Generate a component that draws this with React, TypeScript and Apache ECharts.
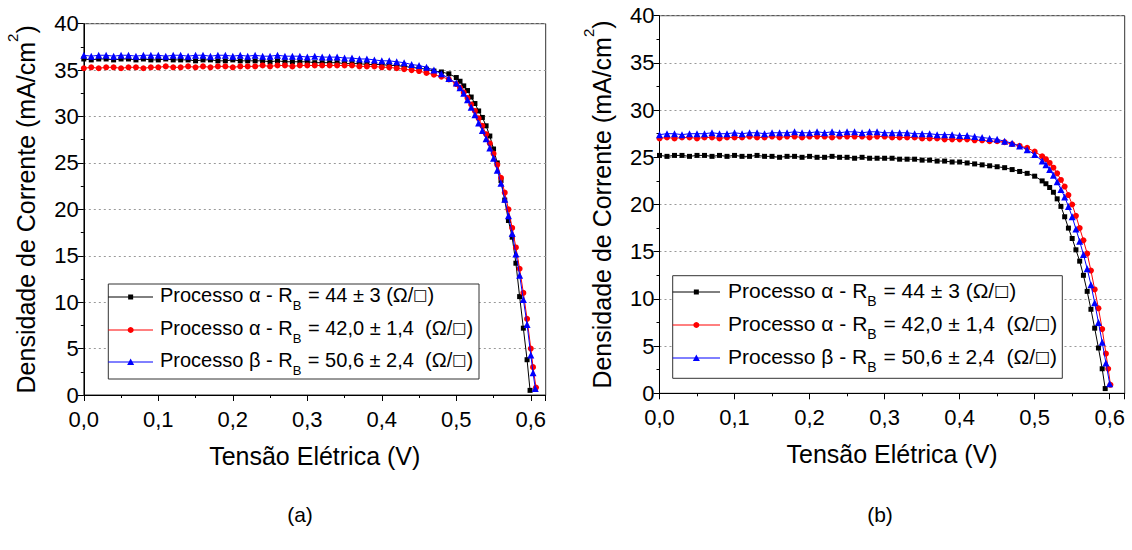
import React, { useEffect, useRef } from 'react';
import * as echarts from 'echarts';

// (a) Voltage (V), current density (mA/cm2)
const A_BLACK: number[][] = [
  [0, 36.2], [0.01, 36.1], [0.02, 36.2], [0.03, 36.2], [0.04, 36.1], [0.05, 36.2], [0.06, 36.2], [0.07, 36.1], [0.08, 36.2], [0.09, 36.1],
  [0.1, 36.1], [0.11, 36.2], [0.12, 36.1], [0.13, 36.1], [0.14, 36.1], [0.15, 36.0], [0.16, 36.1], [0.17, 36.1], [0.18, 36.0], [0.19, 36.0],
  [0.2, 36.1], [0.21, 36.0], [0.22, 36.0], [0.23, 36.0], [0.24, 36.0], [0.25, 35.9], [0.26, 36.0], [0.27, 35.9], [0.28, 35.9], [0.29, 35.9],
  [0.3, 35.9], [0.31, 35.8], [0.32, 35.8], [0.33, 35.8], [0.34, 35.8], [0.35, 35.7], [0.36, 35.7], [0.37, 35.7], [0.38, 35.6], [0.39, 35.6],
  [0.4, 35.6], [0.41, 35.5], [0.42, 35.5], [0.43, 35.4], [0.44, 35.3], [0.45, 35.2], [0.46, 35.1], [0.47, 34.9], [0.48, 34.8], [0.49, 34.6],
  [0.5, 34.2], [0.505, 33.8], [0.51, 33.3], [0.515, 32.8], [0.52, 32.1], [0.525, 31.4], [0.53, 30.6], [0.535, 29.9], [0.54, 29.0], [0.545, 27.9],
  [0.55, 26.5], [0.555, 25.0], [0.56, 23.1], [0.565, 21.0], [0.57, 18.8], [0.575, 17.0], [0.58, 14.2], [0.585, 10.6], [0.59, 7.2], [0.595, 3.8], [0.599, 0.5],
];
const A_RED: number[][] = [
  [0, 35.2], [0.01, 35.3], [0.02, 35.2], [0.03, 35.3], [0.04, 35.3], [0.05, 35.2], [0.06, 35.3], [0.07, 35.3], [0.08, 35.2], [0.09, 35.3],
  [0.1, 35.3], [0.11, 35.4], [0.12, 35.3], [0.13, 35.3], [0.14, 35.4], [0.15, 35.3], [0.16, 35.4], [0.17, 35.3], [0.18, 35.4], [0.19, 35.4],
  [0.2, 35.3], [0.21, 35.4], [0.22, 35.4], [0.23, 35.4], [0.24, 35.5], [0.25, 35.4], [0.26, 35.5], [0.27, 35.5], [0.28, 35.4], [0.29, 35.5],
  [0.3, 35.5], [0.31, 35.5], [0.32, 35.5], [0.33, 35.5], [0.34, 35.5], [0.35, 35.5], [0.36, 35.5], [0.37, 35.4], [0.38, 35.4], [0.39, 35.4],
  [0.4, 35.3], [0.41, 35.3], [0.42, 35.2], [0.43, 35.1], [0.44, 35.0], [0.45, 34.9], [0.46, 34.7], [0.47, 34.5], [0.48, 34.3], [0.49, 34.0],
  [0.5, 33.5], [0.505, 33.1], [0.51, 32.6], [0.515, 32.0], [0.52, 31.3], [0.525, 30.6], [0.53, 29.8], [0.535, 29.0], [0.54, 28.1], [0.545, 27.1],
  [0.55, 26.0], [0.555, 24.8], [0.56, 23.4], [0.565, 21.8], [0.57, 20.0], [0.575, 18.0], [0.58, 15.9], [0.585, 13.6], [0.59, 11.0], [0.595, 8.2],
  [0.6, 5.0], [0.603, 3.0], [0.607, 0.8],
];
const A_BLUE: number[][] = [
  [0, 36.6], [0.01, 36.5], [0.02, 36.6], [0.03, 36.6], [0.04, 36.5], [0.05, 36.6], [0.06, 36.6], [0.07, 36.5], [0.08, 36.6], [0.09, 36.6],
  [0.1, 36.6], [0.11, 36.5], [0.12, 36.6], [0.13, 36.6], [0.14, 36.5], [0.15, 36.6], [0.16, 36.6], [0.17, 36.5], [0.18, 36.6], [0.19, 36.6],
  [0.2, 36.5], [0.21, 36.6], [0.22, 36.5], [0.23, 36.6], [0.24, 36.5], [0.25, 36.5], [0.26, 36.6], [0.27, 36.5], [0.28, 36.5], [0.29, 36.5],
  [0.3, 36.4], [0.31, 36.5], [0.32, 36.4], [0.33, 36.4], [0.34, 36.4], [0.35, 36.3], [0.36, 36.3], [0.37, 36.2], [0.38, 36.2], [0.39, 36.1],
  [0.4, 36.0], [0.41, 36.0], [0.42, 35.9], [0.43, 35.8], [0.44, 35.6], [0.45, 35.5], [0.46, 35.3], [0.47, 35.0], [0.48, 34.6], [0.49, 34.1],
  [0.5, 33.6], [0.505, 33.1], [0.51, 32.5], [0.515, 31.8], [0.52, 31.0], [0.525, 30.2], [0.53, 29.3], [0.535, 28.5], [0.54, 27.6], [0.545, 26.6],
  [0.55, 25.5], [0.555, 24.2], [0.56, 22.8], [0.565, 21.1], [0.57, 19.3], [0.575, 17.4], [0.58, 15.2], [0.585, 12.9], [0.59, 10.3], [0.595, 7.6],
  [0.6, 4.3], [0.603, 2.4], [0.606, 0.7],
];

// (b)
const B_BLACK: number[][] = [
  [0, 25.2], [0.01, 25.1], [0.02, 25.2], [0.03, 25.2], [0.04, 25.1], [0.05, 25.2], [0.06, 25.2], [0.07, 25.1], [0.08, 25.2], [0.09, 25.1],
  [0.1, 25.2], [0.11, 25.1], [0.12, 25.1], [0.13, 25.2], [0.14, 25.1], [0.15, 25.1], [0.16, 25.0], [0.17, 25.1], [0.18, 25.1], [0.19, 25.0],
  [0.2, 25.1], [0.21, 25.0], [0.22, 25.0], [0.23, 25.1], [0.24, 25.0], [0.25, 25.0], [0.26, 24.9], [0.27, 25.0], [0.28, 24.9], [0.29, 24.9],
  [0.3, 24.9], [0.31, 24.9], [0.32, 24.8], [0.33, 24.8], [0.34, 24.8], [0.35, 24.7], [0.36, 24.7], [0.37, 24.6], [0.38, 24.6], [0.39, 24.5],
  [0.4, 24.5], [0.41, 24.4], [0.42, 24.3], [0.43, 24.2], [0.44, 24.1], [0.45, 24.0], [0.46, 23.9], [0.47, 23.7], [0.48, 23.5], [0.49, 23.3],
  [0.5, 23.0], [0.51, 22.5], [0.515, 22.2], [0.52, 21.8], [0.525, 21.3], [0.53, 20.6], [0.535, 19.8], [0.54, 18.7], [0.545, 17.5], [0.55, 16.4],
  [0.555, 15.2], [0.56, 14.0], [0.565, 12.5], [0.57, 10.8], [0.575, 8.9], [0.58, 6.9], [0.585, 4.8], [0.59, 2.6], [0.594, 0.5],
];
const B_RED: number[][] = [
  [0, 27.0], [0.01, 27.1], [0.02, 27.0], [0.03, 27.1], [0.04, 27.1], [0.05, 27.0], [0.06, 27.1], [0.07, 27.1], [0.08, 27.0], [0.09, 27.1],
  [0.1, 27.1], [0.11, 27.1], [0.12, 27.2], [0.13, 27.1], [0.14, 27.1], [0.15, 27.2], [0.16, 27.1], [0.17, 27.2], [0.18, 27.2], [0.19, 27.1],
  [0.2, 27.2], [0.21, 27.2], [0.22, 27.2], [0.23, 27.1], [0.24, 27.2], [0.25, 27.2], [0.26, 27.2], [0.27, 27.2], [0.28, 27.1], [0.29, 27.2],
  [0.3, 27.2], [0.31, 27.1], [0.32, 27.1], [0.33, 27.1], [0.34, 27.1], [0.35, 27.0], [0.36, 27.0], [0.37, 27.0], [0.38, 26.9], [0.39, 26.9],
  [0.4, 26.9], [0.41, 26.9], [0.42, 26.8], [0.43, 26.8], [0.44, 26.7], [0.45, 26.7], [0.46, 26.6], [0.47, 26.4], [0.48, 26.2], [0.49, 26.0],
  [0.5, 25.6], [0.51, 25.1], [0.515, 24.8], [0.52, 24.4], [0.525, 23.9], [0.53, 23.3], [0.535, 22.6], [0.54, 21.9], [0.545, 21.0], [0.55, 20.0],
  [0.555, 18.8], [0.56, 17.5], [0.565, 16.2], [0.57, 14.8], [0.575, 13.0], [0.58, 11.0], [0.585, 9.0], [0.59, 6.8], [0.595, 4.2], [0.598, 2.6], [0.601, 0.9],
];
const B_BLUE: number[][] = [
  [0, 27.4], [0.01, 27.5], [0.02, 27.5], [0.03, 27.4], [0.04, 27.5], [0.05, 27.5], [0.06, 27.5], [0.07, 27.6], [0.08, 27.5], [0.09, 27.5],
  [0.1, 27.6], [0.11, 27.5], [0.12, 27.6], [0.13, 27.6], [0.14, 27.5], [0.15, 27.6], [0.16, 27.6], [0.17, 27.6], [0.18, 27.7], [0.19, 27.6],
  [0.2, 27.6], [0.21, 27.7], [0.22, 27.6], [0.23, 27.7], [0.24, 27.6], [0.25, 27.7], [0.26, 27.7], [0.27, 27.6], [0.28, 27.7], [0.29, 27.7],
  [0.3, 27.6], [0.31, 27.6], [0.32, 27.6], [0.33, 27.6], [0.34, 27.5], [0.35, 27.5], [0.36, 27.5], [0.37, 27.4], [0.38, 27.4], [0.39, 27.4],
  [0.4, 27.3], [0.41, 27.3], [0.42, 27.2], [0.43, 27.1], [0.44, 27.0], [0.45, 26.9], [0.46, 26.7], [0.47, 26.5], [0.48, 26.2], [0.49, 25.8],
  [0.5, 25.3], [0.51, 24.6], [0.515, 24.2], [0.52, 23.7], [0.525, 23.1], [0.53, 22.4], [0.535, 21.6], [0.54, 20.8], [0.545, 19.8], [0.55, 18.7],
  [0.555, 17.4], [0.56, 16.1], [0.565, 14.7], [0.57, 13.2], [0.575, 11.5], [0.58, 9.6], [0.585, 7.5], [0.59, 5.4], [0.595, 3.2], [0.6, 1.0],
];

const SERIES_NAMES = ['Processo α - RB = 44 ± 3', 'Processo α - RB = 42,0 ± 1,4', 'Processo β - RB = 50,6 ± 2,4'];
const LEGEND_TEXTS = [
  '{n|Processo α - R}{s|B}{n| = 44 ± 3 (Ω/}{q|□}{n|)}',
  '{n|Processo α - R}{s|B}{n| = 42,0 ± 1,4  (Ω/}{q|□}{n|)}',
  '{n|Processo β - R}{s|B}{n| = 50,6 ± 2,4  (Ω/}{q|□}{n|)}',
];
const COLORS = ['#000000', '#ff0000', '#0000ff'];
const SYMBOLS = ['rect', 'circle', 'triangle'];
const SYMBOL_SIZES = [5, 6, 7];
const X_TICKS = [0, 0.1, 0.2, 0.3, 0.4, 0.5, 0.6];
const PANEL_LABELS = ['(a)', '(b)'];

const FONT = "'Liberation Sans', Arial, 'DejaVu Sans', sans-serif";

function fmtX(v: number) {
  const hit = X_TICKS.some((t) => Math.abs(t - v) < 1e-9);
  return hit ? v.toFixed(1).replace('.', ',') : '';
}

function legendElements(
  box: { x: number; y: number; w: number; h: number },
  rows: number[],
  lineX1: number,
  lineX2: number,
  textX: number,
  fontSize: number
) {
  const els: any[] = [
    {
      type: 'rect',
      shape: { x: box.x, y: box.y, width: box.w, height: box.h },
      style: { fill: '#fff', stroke: '#333', lineWidth: 1 },
      z: 100,
    },
  ];
  const mx = (lineX1 + lineX2) / 2;
  rows.forEach((ry, i) => {
    els.push({
      type: 'line',
      shape: { x1: lineX1, y1: ry, x2: lineX2, y2: ry },
      style: { stroke: COLORS[i], lineWidth: 1 },
      z: 101,
    });
    if (i === 0) {
      els.push({ type: 'rect', shape: { x: mx - 2.5, y: ry - 2.5, width: 5, height: 5 }, style: { fill: COLORS[i] }, z: 102 });
    } else if (i === 1) {
      els.push({ type: 'circle', shape: { cx: mx, cy: ry, r: 3 }, style: { fill: COLORS[i] }, z: 102 });
    } else {
      els.push({
        type: 'polygon',
        shape: { points: [[mx, ry - 3.5], [mx + 3.5, ry + 3], [mx - 3.5, ry + 3]] },
        style: { fill: COLORS[i] },
        z: 102,
      });
    }
    els.push({
      type: 'text',
      x: textX,
      y: ry - 12,
      z: 102,
      style: {
        text: LEGEND_TEXTS[i],
        fill: '#000',
        rich: {
          n: { fontSize, fontFamily: FONT, lineHeight: 24, verticalAlign: 'top', fill: '#000' },
          s: { fontSize: Math.round(fontSize * 0.65), fontFamily: FONT, lineHeight: 13, verticalAlign: 'top', padding: [14, 1, 0, 0], fill: '#000' },
          q: { fontSize: Math.round(fontSize * 0.75), fontFamily: "'DejaVu Sans', sans-serif", lineHeight: 24, verticalAlign: 'top', padding: [2, 0, 0, 0], fill: '#000' },
        },
      },
    });
  });
  return els;
}

export default function App() {
  const ref = useRef<HTMLDivElement>(null);
  useEffect(() => {
    const chart = echarts.init(ref.current!, null, { renderer: 'svg' });
    const grids = [
      { left: 83.8, top: 23.7, width: 461.9, height: 371.3 },
      { left: 659.5, top: 15.7, width: 465.2, height: 377.6 },
    ];
    const nameGapsY = [45, 45];
    const xAxes = grids.map((_, gi) => ({
      type: 'value',
      gridIndex: gi,
      min: 0,
      max: 0.62,
      interval: 0.1,
      name: 'Tensão Elétrica (V)',
      nameLocation: 'middle',
      nameGap: 48,
      nameTextStyle: { fontSize: 25, fontFamily: FONT, color: '#000' },
      axisLine: { show: true, lineStyle: { color: '#000', width: 1 } },
      axisTick: { show: true, inside: false, length: 6, lineStyle: { color: '#000' } },
      minorTick: { show: true, splitNumber: 2, length: 3, lineStyle: { color: '#000' } },
      axisLabel: { fontSize: 22, fontFamily: FONT, color: '#000', margin: 13, formatter: fmtX },
      splitLine: { show: false },
      minorSplitLine: { show: false },
    }));
    const yAxes = grids.map((_, gi) => ({
      type: 'value',
      gridIndex: gi,
      min: 0,
      max: 40,
      interval: 5,
      name: '{t|Densidade de Corrente (mA/cm}{p|2}{t|)}',
      nameLocation: 'middle',
      nameRotate: 90,
      nameGap: nameGapsY[gi],
      nameTextStyle: {
        fontFamily: FONT,
        color: '#000',
        rich: {
          t: { fontSize: 25, fontFamily: FONT, color: '#000', lineHeight: 34, verticalAlign: 'bottom' },
          p: { fontSize: 15, fontFamily: FONT, color: '#000', lineHeight: 15, verticalAlign: 'top' },
        },
      },
      axisLine: { show: true, lineStyle: { color: '#000', width: 1 } },
      axisTick: { show: true, inside: false, length: 6, lineStyle: { color: '#000' } },
      minorTick: { show: true, splitNumber: 2, length: 3, lineStyle: { color: '#000' } },
      axisLabel: { fontSize: 22, fontFamily: FONT, color: '#000', margin: 5, lineHeight: 20 },
      splitLine: { show: true, lineStyle: { color: '#999', width: 1, type: [2, 3] } },
      minorSplitLine: { show: false },
    }));
    const dataSets = [
      [A_BLACK, A_RED, A_BLUE],
      [B_BLACK, B_RED, B_BLUE],
    ];
    const series: any[] = [];
    dataSets.forEach((sets, gi) => {
      sets.forEach((d, i) => {
        series.push({
          type: 'line',
          name: SERIES_NAMES[i],
          xAxisIndex: gi,
          yAxisIndex: gi,
          data: d,
          symbol: SYMBOLS[i],
          symbolSize: SYMBOL_SIZES[i],
          showAllSymbol: true,
          lineStyle: { color: COLORS[i], width: 1 },
          itemStyle: { color: COLORS[i] },
          z: 2 + i,
        });
      });
    });
    const graphic: any[] = [
      ...legendElements({ x: 108.3, y: 284, w: 370.7, h: 95 }, [297, 330, 362], 108.3, 153, 160, 20),
      ...legendElements({ x: 672.7, y: 275.7, w: 389.6, h: 102.6 }, [292, 325, 358], 672.7, 720, 728, 21),
      {
        type: 'text', x: 300, y: 514,
        style: { text: PANEL_LABELS[0], fontSize: 21, fontFamily: FONT, fill: '#000', align: 'center', verticalAlign: 'middle' },
      },
      {
        type: 'text', x: 880, y: 514,
        style: { text: PANEL_LABELS[1], fontSize: 21, fontFamily: FONT, fill: '#000', align: 'center', verticalAlign: 'middle' },
      },
    ];
    chart.setOption({
      animation: false,
      backgroundColor: '#fff',
      grid: grids.map((g) => ({ ...g, show: true, borderColor: '#333', borderWidth: 1, backgroundColor: 'transparent' })),
      xAxis: xAxes,
      yAxis: yAxes,
      series,
      graphic,
    });
    return () => chart.dispose();
  }, []);
  return (
    <div
      ref={ref}
      style={{ position: 'absolute', left: 0, top: 0, width: 1132, height: 550, background: '#fff' }}
    />
  );
}
